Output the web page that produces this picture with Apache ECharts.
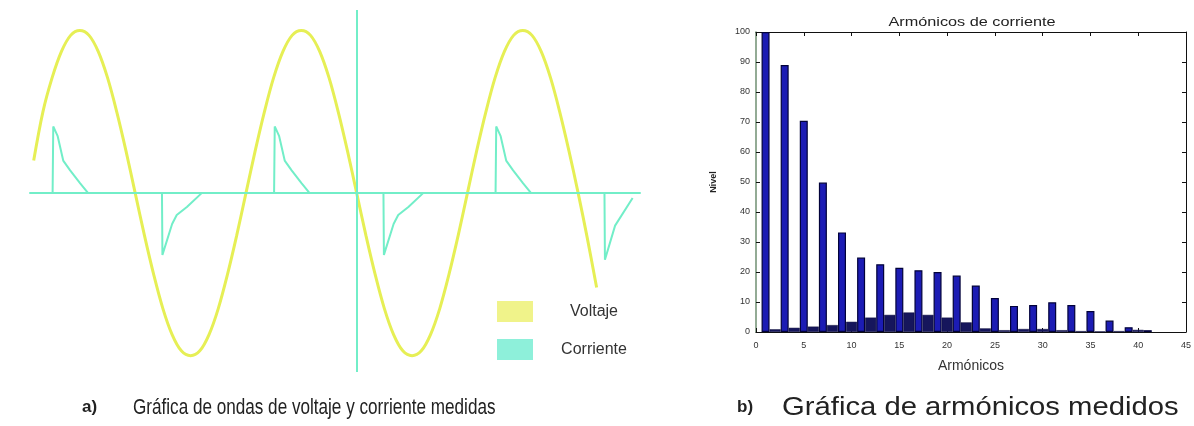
<!DOCTYPE html>
<html>
<head>
<meta charset="utf-8">
<script src="https://cdn.jsdelivr.net/npm/echarts@6/dist/echarts.min.js"></script>
<style>
html,body{margin:0;padding:0;background:#fff;}
#c{width:1194px;height:426px;}
</style>
</head>
<body>
<div id="c"></div>
<script>
// ---- Panel a) : waveforms (sample index, 15 degrees per step) ----
var voltValues = [0.2, 0.5, 0.71, 0.87, 0.97, 1.0, 0.97, 0.87, 0.71, 0.5, 0.26, 0,
  -0.26, -0.5, -0.71, -0.87, -0.97, -1.0, -0.97, -0.87, -0.71, -0.5, -0.26, 0,
  0.26, 0.5, 0.71, 0.87, 0.97, 1.0, 0.97, 0.87, 0.71, 0.5, 0.26, 0,
  -0.26, -0.5, -0.71, -0.87, -0.97, -1.0, -0.97, -0.87, -0.71, -0.5, -0.26, 0,
  0.26, 0.5, 0.71, 0.87, 0.97, 1.0, 0.97, 0.87, 0.71, 0.5, 0.26, 0,
  -0.28, -0.58];
var currX = [-0.4, 2.05, 2.12, 2.6, 3.2, 3.95, 5.04, 5.9,
  13.9, 13.95, 14.1, 15.0, 15.5, 16.6, 18.2,
  26.05, 26.12, 26.6, 27.2, 27.95, 29.04, 29.9,
  37.9, 37.95, 38.1, 39.0, 39.5, 40.6, 42.2,
  50.05, 50.12, 50.6, 51.2, 51.95, 53.04, 53.9,
  61.85, 61.9, 62.1, 63.0, 64.9];
var currY = [0, 0, 0.41, 0.35, 0.2, 0.14, 0.06, 0,
  0, -0.38, -0.38, -0.19, -0.135, -0.085, 0,
  0, 0.41, 0.35, 0.2, 0.14, 0.06, 0,
  0, -0.38, -0.38, -0.19, -0.135, -0.085, 0,
  0, 0.41, 0.35, 0.2, 0.14, 0.06, 0,
  0, -0.41, -0.4, -0.2, -0.03];
var markerX = 35;
var legendNames = ['Voltaje', 'Corriente'];

// ---- Panel b) : harmonics ----
var oddHarm = [1, 3, 5, 7, 9, 11, 13, 15, 17, 19, 21, 23, 25, 27, 29, 31, 33, 35, 37, 39, 41];
var oddLevel = [100, 89, 70.4, 49.8, 33.2, 24.8, 22.6, 21.4, 20.6, 20.0, 18.8, 15.5, 11.3, 8.7, 9.0, 9.9, 9.0, 7.0, 3.8, 1.6, 0.6];
var evenHarm = [2, 4, 6, 8, 10, 12, 14, 16, 18, 20, 22, 24, 26, 28, 30, 32, 34, 36, 38, 40];
var evenLevel = [0.9, 1.4, 1.8, 2.3, 3.4, 4.8, 5.7, 6.5, 5.7, 4.8, 3.2, 1.2, 0.6, 1.0, 1.0, 0.6, 0.3, 0.2, 0.3, 0.7];
var xTickMax = 45, xTickStep = 5, yTickMax = 100, yTickStep = 10;

var voltData = voltValues.map(function (v, i) { return [i, v]; });
var currData = currX.map(function (x, i) { return [x, currY[i]]; });
var oddData = oddHarm.map(function (h, i) { return [h, oddLevel[i]]; });
var evenData = evenHarm.map(function (h, i) { return [h, evenLevel[i]]; });

var CYAN = '#72eec8', YELLOW = '#e6ef55';
var chart = echarts.init(document.getElementById('c'));
var axisTxt = { fontSize: 9, color: '#333', fontFamily: 'Liberation Sans' };
chart.setOption({
  animation: false,
  backgroundColor: '#fff',
  grid: [
    { left: 30, top: 10, width: 610, height: 362 },
    { left: 756, top: 32, width: 434, height: 300 }
  ],
  xAxis: [
    { gridIndex: 0, type: 'value', min: -0.4, max: 65.7,
      axisLine: { onZero: true, lineStyle: { color: CYAN, width: 2 } },
      axisTick: { show: false }, axisLabel: { show: false }, splitLine: { show: false } },
    { gridIndex: 1, type: 'value', position: 'bottom', min: 0, max: xTickMax, interval: xTickStep,
      axisLine: { onZero: false, lineStyle: { color: '#111', width: 1 } },
      axisTick: { inside: true, length: 4, lineStyle: { color: '#111' } },
      axisLabel: Object.assign({ margin: 9 }, axisTxt), splitLine: { show: false },
      name: 'Armónicos', nameLocation: 'middle', nameGap: 27,
      nameTextStyle: { fontSize: 14, color: '#333', fontFamily: 'Liberation Sans' } },
    { gridIndex: 1, type: 'value', position: 'top', min: 0, max: xTickMax, interval: xTickStep,
      axisLine: { onZero: false, lineStyle: { color: '#111', width: 1 } },
      axisTick: { inside: true, length: 4, lineStyle: { color: '#111' } },
      axisLabel: { show: false }, splitLine: { show: false } }
  ],
  yAxis: [
    { gridIndex: 0, type: 'value', min: -1.1, max: 1.126, show: false },
    { gridIndex: 1, type: 'value', position: 'left', min: 0, max: yTickMax, interval: yTickStep,
      axisLine: { onZero: false, lineStyle: { color: '#6f8f72', width: 1.5 } },
      axisTick: { inside: true, length: 4, lineStyle: { color: '#111' } },
      axisLabel: Object.assign({ margin: 6 }, axisTxt), splitLine: { show: false },
      name: 'Nivel', nameLocation: 'middle', nameRotate: 90, nameGap: 38,
      nameTextStyle: { fontSize: 9, fontWeight: 'bold', color: '#222', fontFamily: 'Liberation Sans' } },
    { gridIndex: 1, type: 'value', position: 'right', min: 0, max: yTickMax, interval: yTickStep,
      axisLine: { onZero: false, lineStyle: { color: '#111', width: 1 } },
      axisTick: { inside: true, length: 4, lineStyle: { color: '#111' } },
      axisLabel: { show: false }, splitLine: { show: false } }
  ],
  legend: {
    orient: 'vertical', left: 497, top: 301, padding: 0, itemWidth: 36, itemHeight: 21, itemGap: 17,
    icon: 'rect',
    data: [
      { name: legendNames[0], itemStyle: { color: '#f0f38a' } },
      { name: legendNames[1], itemStyle: { color: '#8ef0da' } }
    ],
    formatter: '{c|{name}}',
    textStyle: { rich: { c: { width: 112, align: 'center', fontSize: 16, color: '#333', fontFamily: 'Liberation Sans' } } }
  },
  series: [
    { name: legendNames[0], type: 'line', xAxisIndex: 0, yAxisIndex: 0, data: voltData,
      smooth: 0.35, showSymbol: false, color: YELLOW,
      lineStyle: { color: YELLOW, width: 3 } },
    { name: legendNames[1], type: 'line', xAxisIndex: 0, yAxisIndex: 0, data: currData,
      showSymbol: false, color: CYAN, lineStyle: { color: CYAN, width: 2 },
      markLine: { silent: true, symbol: 'none', label: { show: false },
        lineStyle: { color: CYAN, width: 2, type: 'solid' }, data: [{ xAxis: markerX }] } },
    { name: 'par', type: 'bar', xAxisIndex: 2, yAxisIndex: 1, data: evenData, barWidth: 11,
      itemStyle: { color: '#16165c', borderColor: '#0a0a38', borderWidth: 0.5 } },
    { name: 'impar', type: 'bar', xAxisIndex: 1, yAxisIndex: 1, data: oddData, barWidth: 8,
      itemStyle: { color: '#1c1cb4', borderColor: '#02023a', borderWidth: 1.2 } }
  ],
  graphic: [
    { type: 'text', x: 972, y: 22, scaleX: 1.25, style: { text: 'Armónicos de corriente', font: '13px "Liberation Sans"', fill: '#222', textAlign: 'center', textVerticalAlign: 'middle' } },
    { type: 'text', x: 82, y: 407, style: { text: 'a)', font: 'bold 17px "Liberation Sans"', fill: '#222', textVerticalAlign: 'middle' } },
    { type: 'text', x: 133, y: 408, scaleX: 0.778, style: { text: 'Gráfica de ondas de voltaje y corriente medidas', font: '22px "Liberation Sans"', fill: '#222', textVerticalAlign: 'middle' } },
    { type: 'text', x: 737, y: 407, style: { text: 'b)', font: 'bold 17px "Liberation Sans"', fill: '#222', textVerticalAlign: 'middle' } },
    { type: 'text', x: 782, y: 408, scaleX: 1.17, style: { text: 'Gráfica de armónicos medidos', font: '25px "Liberation Sans"', fill: '#222', textVerticalAlign: 'middle' } }
  ]
});
</script>
</body>
</html>
